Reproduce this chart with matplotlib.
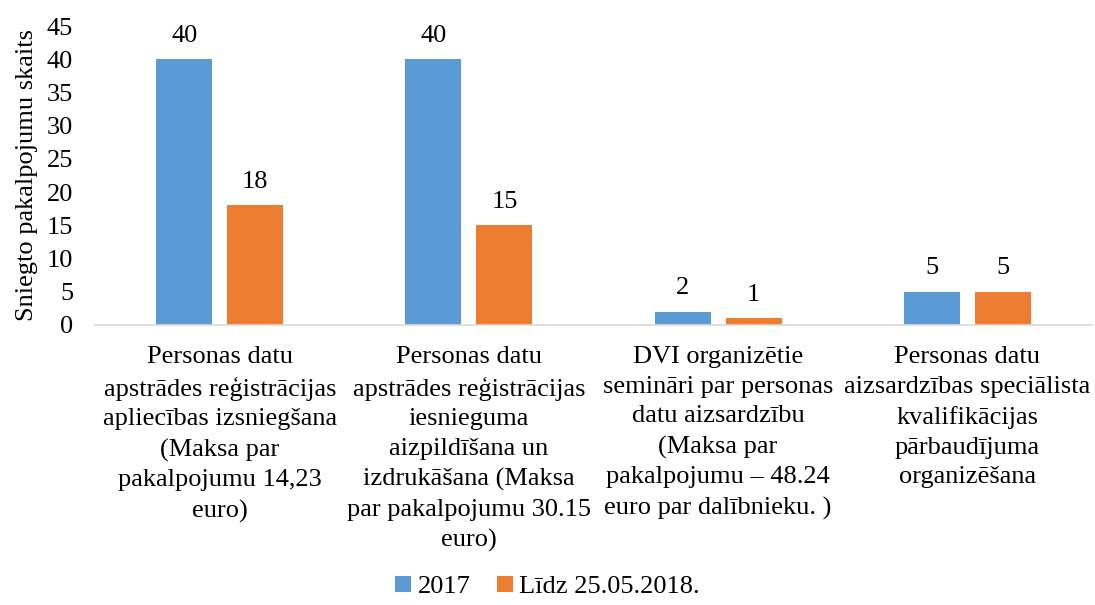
import matplotlib
matplotlib.use('Agg')
import matplotlib.pyplot as plt
import numpy as np

plt.rcParams['font.family'] = ['Liberation Serif', 'DejaVu Serif']

categories = [
    'Personas datu\napstrādes reģistrācijas\napliecības izsniegšana\n(Maksa par\npakalpojumu 14,23\neuro)',
    'Personas datu\napstrādes reģistrācijas\niesnieguma\naizpildīšana un\nizdrukāšana (Maksa\npar pakalpojumu 30.15\neuro)',
    'DVI organizētie\nsemināri par personas\ndatu aizsardzību\n(Maksa par\npakalpojumu – 48.24\neuro par dalībnieku. )',
    'Personas datu\naizsardzības speciālista\nkvalifikācijas\npārbaudījuma\norganizēšana',
]
series_names = ['2017', 'Līdz 25.05.2018.']
values_2017 = [40, 40, 2, 5]
values_2018 = [18, 15, 1, 5]
colors = ['#5B9BD5', '#ED7D31']

FS = 19

fig = plt.figure(figsize=(10.95, 6.05), dpi=100)
ax = fig.add_axes([0.087, 0.463, 0.91, 0.494])

x = np.arange(len(categories))
w = 0.225
gap = 0.06
off = (w + gap) / 2
b1 = ax.bar(x - off, values_2017, w, color=colors[0], label=series_names[0])
b2 = ax.bar(x + off, values_2018, w, color=colors[1], label=series_names[1])

for bars in (b1, b2):
    for bar in bars:
        h = bar.get_height()
        ax.text(bar.get_x() + bar.get_width() / 2, h + 1.9, f'{h:g}',
                ha='center', va='bottom', fontsize=FS)

ax.set_xlim(-0.5, len(categories) - 0.5)
ax.set_ylim(0, 45)
ax.set_yticks(range(0, 46, 5))
ax.set_xticks(x)
ax.set_xticklabels(categories, fontsize=FS, linespacing=1.46)
ax.tick_params(axis='both', length=0, labelsize=FS)
ax.tick_params(axis='x', pad=15)
ax.tick_params(axis='y', pad=16)
for s in ['top', 'right', 'left']:
    ax.spines[s].set_visible(False)
ax.spines['bottom'].set_color('#D9D9D9')
ax.spines['bottom'].set_linewidth(1.2)
ax.set_ylabel('Sniegto pakalpojumu skaits', fontsize=FS, labelpad=6)

fig.legend(loc='lower center', bbox_to_anchor=(0.5, -0.028), ncol=2, frameon=False,
           fontsize=FS, handlelength=0.6, handleheight=0.6, handletextpad=0.25,
           columnspacing=1.0)

fig.savefig('out.png', dpi=100, facecolor='white')
